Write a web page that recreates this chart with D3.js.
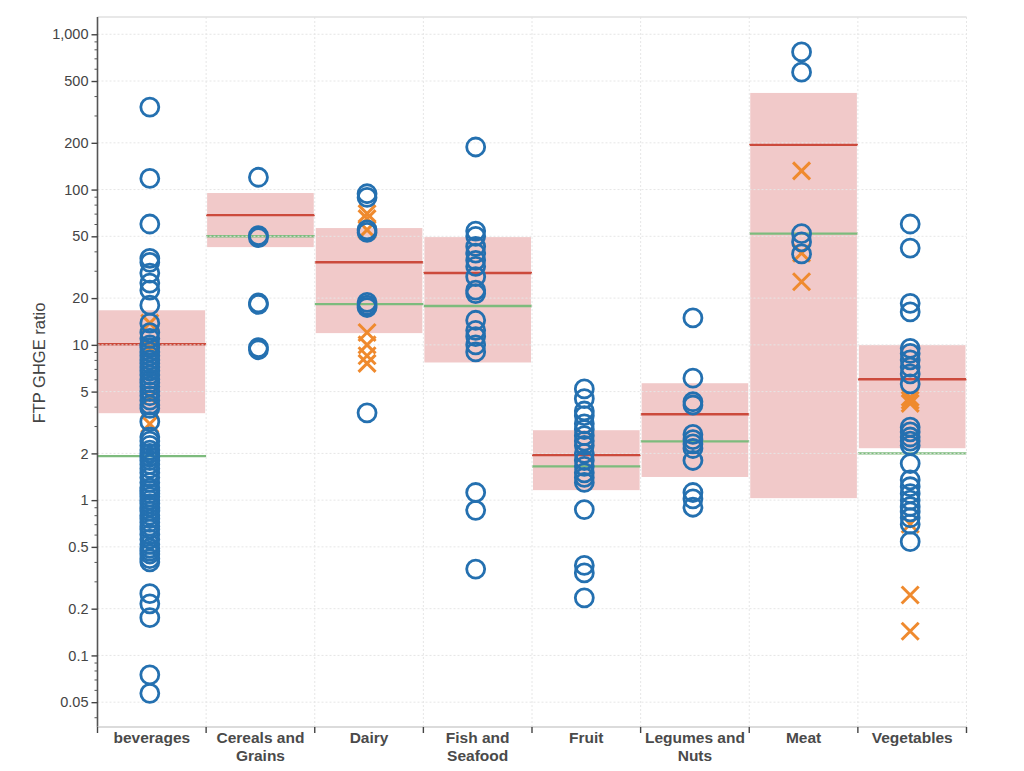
<!DOCTYPE html>
<html>
<head>
<meta charset="utf-8">
<script src="https://cdn.jsdelivr.net/npm/d3@7/dist/d3.min.js"></script>
<style>
  html, body { margin: 0; padding: 0; background: #fff; }
  svg { display: block; font-family: "Liberation Sans", Arial, sans-serif; }
</style>
</head>
<body>
<svg id="chart" width="1024" height="771"></svg>
<script>
// ---------------- DATA ----------------
const categories = ["beverages", "Cereals and Grains", "Dairy", "Fish and Seafood", "Fruit", "Legumes and Nuts", "Meat", "Vegetables"];
const categoryLabels = [["beverages"], ["Cereals and", "Grains"], ["Dairy"], ["Fish and", "Seafood"], ["Fruit"], ["Legumes and", "Nuts"], ["Meat"], ["Vegetables"]];

// shaded range (low / high), mean (red) and median (green) per category
const rangeLow  = [3.63, 42.6, 11.9, 7.7, 1.16, 1.41, 1.03, 2.16];
const rangeHigh = [16.7, 95, 56.5, 49.4, 2.82, 5.66, 419, 9.96];
const meanValues   = [10.1, 68.5, 34, 29, 1.95, 3.57, 194, 6.0];
const medianValues = [1.92, 50, 18.3, 17.8, 1.65, 2.39, 52, 2.0];

// circle markers per category
const circleValues = [
  [340, 118, 60, 36, 34, 29, 25, 22.5, 18, 13.8, 12, 11,
   10, 9.6, 9.0, 8.5, 8.0, 7.6, 7.2, 6.8, 6.4, 6.0, 5.7, 5.4, 5.0, 4.7, 4.4, 4.1, 3.9, 3.2,
   2.55, 2.4, 2.25, 2.1, 2.0, 1.9, 1.8, 1.7, 1.6, 1.5, 1.4, 1.3, 1.2, 1.15, 1.1, 1.05, 1.0,
   0.95, 0.9, 0.85, 0.8, 0.76, 0.72, 0.68, 0.65, 0.6, 0.56, 0.52, 0.49, 0.47, 0.45, 0.42, 0.40,
   0.25, 0.215, 0.175, 0.075, 0.057],
  [120, 50.5, 49, 18.6, 18.2, 9.6, 9.3],
  [94, 89, 55, 53, 18.8, 18, 17.4, 3.65],
  [188, 54, 50, 43, 39, 35, 32, 27.5, 22.5, 21.4, 14.4, 12.4, 11.3, 10, 9.0, 1.12, 0.86, 0.36],
  [5.2, 4.5, 3.75, 3.5, 3.1, 2.85, 2.6, 2.4, 2.25, 2.0, 1.8, 1.65, 1.5, 1.4, 1.3, 0.87, 0.38, 0.34, 0.235],
  [14.9, 6.1, 4.3, 4.1, 2.65, 2.45, 2.3, 2.15, 1.8, 1.12, 1.02, 0.9],
  [770, 570, 52, 46, 38.5],
  [60, 42, 18.5, 16.3, 9.5, 8.8, 8.0, 7.2, 6.5, 5.6, 2.95, 2.75, 2.55, 2.4, 2.25, 1.72,
   1.35, 1.22, 1.1, 1.0, 0.91, 0.84, 0.77, 0.7, 0.54]
];

// cross markers per category
const crossValues = [
  [13.8, 9.6, 4.6, 3.1],
  [],
  [70, 65, 55, 12, 10, 8.5, 7.6],
  [],
  [],
  [],
  [132, 39, 25.5],
  [4.6, 4.4, 4.2, 0.7, 0.245, 0.143]
];

const majorTicks = [1000, 500, 200, 100, 50, 20, 10, 5, 2, 1, 0.5, 0.2, 0.1, 0.05];
const minorTicks = [0.04, 0.06, 0.07, 0.08, 0.09, 0.3, 0.4, 0.6, 0.7, 0.8, 0.9, 3, 4, 6, 7, 8, 9, 30, 40, 60, 70, 80, 90, 300, 400, 600, 700, 800, 900];
const yTitle = "FTP GHGE ratio";

// ---------------- LAYOUT ----------------
const pLeft = 97.5, pRight = 966.5, pTop = 17, pBottom = 727;
const svg = d3.select("#chart");

const x = d3.scaleBand().domain(categories).range([pLeft, pRight]).padding(0);
const y = d3.scaleLog().domain([0.0346, 1292]).range([pBottom, pTop]);

const blue = "#2470b0";
const orange = "#ef8a2e";

// shaded ranges
svg.append("g").selectAll("rect").data(categories).join("rect")
  .attr("x", d => x(d) + 1)
  .attr("width", x.bandwidth() - 2)
  .attr("y", (d, i) => y(rangeHigh[i]))
  .attr("height", (d, i) => y(rangeLow[i]) - y(rangeHigh[i]))
  .attr("fill", "#f1c9c9");

// mean lines (red)
svg.append("g").selectAll("line").data(categories).join("line")
  .attr("x1", d => x(d)).attr("x2", d => x(d) + x.bandwidth())
  .attr("y1", (d, i) => y(meanValues[i])).attr("y2", (d, i) => y(meanValues[i]))
  .attr("stroke", "#cc4a3c").attr("stroke-width", 2.4);

// median lines (green)
svg.append("g").selectAll("line").data(categories).join("line")
  .attr("x1", d => x(d)).attr("x2", d => x(d) + x.bandwidth())
  .attr("y1", (d, i) => y(medianValues[i])).attr("y2", (d, i) => y(medianValues[i]))
  .attr("stroke", "#7dbb7d").attr("stroke-width", 2.4);

// grid
const grid = svg.append("g").attr("stroke", "#e6e6e6").attr("stroke-width", 1).attr("stroke-dasharray", "2,2");
grid.selectAll("line.h").data(majorTicks).join("line").attr("class", "h")
  .attr("x1", pLeft).attr("x2", pRight)
  .attr("y1", d => y(d)).attr("y2", d => y(d));
const boundaries = categories.map(c => x(c)).slice(1).concat([pRight]);
grid.selectAll("line.v").data(boundaries).join("line").attr("class", "v")
  .attr("x1", d => d).attr("x2", d => d)
  .attr("y1", pTop).attr("y2", pBottom);

// frame top
svg.append("line").attr("x1", pLeft).attr("x2", pRight).attr("y1", pTop).attr("y2", pTop)
  .attr("stroke", "#e0e0e0").attr("stroke-width", 1.5);

// crosses
const xs = 8.5;
const crossG = svg.append("g");
categories.forEach((c, i) => {
  const cx = x(c) + x.bandwidth() / 2 - 2;
  crossValues[i].forEach(v => {
    const cy = y(v);
    crossG.append("path")
      .attr("d", `M${cx - xs},${cy - xs}L${cx + xs},${cy + xs}M${cx - xs},${cy + xs}L${cx + xs},${cy - xs}`)
      .attr("stroke", orange).attr("stroke-width", 3).attr("fill", "none");
  });
});

// circles
const circG = svg.append("g");
categories.forEach((c, i) => {
  const cx = x(c) + x.bandwidth() / 2 - 2;
  circG.selectAll(null).data(circleValues[i]).join("circle")
    .attr("cx", cx).attr("cy", d => y(d)).attr("r", 9)
    .attr("fill", "none").attr("stroke", blue).attr("stroke-width", 2.8);
});

// y axis
const yAxis = svg.append("g").attr("transform", `translate(${pLeft},0)`)
  .call(d3.axisLeft(y).tickValues(majorTicks).tickFormat(d3.format(",")).tickSize(6).tickSizeOuter(0));
yAxis.select(".domain").attr("stroke", "#555").attr("stroke-width", 1.6).attr("d", `M0,${pTop}V${pBottom}`);
yAxis.selectAll(".tick line").attr("stroke", "#444").attr("stroke-width", 1.4);
yAxis.selectAll(".tick text").attr("fill", "#444").attr("font-size", 14.5).attr("x", -9);
const yMinor = svg.append("g").attr("transform", `translate(${pLeft},0)`)
  .call(d3.axisLeft(y).tickValues(minorTicks).tickFormat("").tickSize(3).tickSizeOuter(0));
yMinor.select(".domain").remove();
yMinor.selectAll(".tick line").attr("stroke", "#555");

// x axis
svg.append("line").attr("x1", pLeft).attr("x2", pRight).attr("y1", pBottom).attr("y2", pBottom)
  .attr("stroke", "#cfcfcf").attr("stroke-width", 1.5);
const tickXs = [pLeft].concat(boundaries);
svg.append("g").selectAll("line").data(tickXs).join("line")
  .attr("x1", d => d).attr("x2", d => d).attr("y1", pBottom).attr("y2", pBottom + 6)
  .attr("stroke", "#444").attr("stroke-width", 1.4);
const xl = svg.append("g");
categories.forEach((c, i) => {
  const t = xl.append("text")
    .attr("x", x(c) + x.bandwidth() / 2)
    .attr("y", 743)
    .attr("text-anchor", "middle")
    .attr("font-size", 15.5)
    .attr("font-weight", "bold")
    .attr("fill", "#4a4a4a");
  categoryLabels[i].forEach((ln, j) => {
    t.append("tspan").attr("x", x(c) + x.bandwidth() / 2).attr("dy", j === 0 ? 0 : 18).text(ln);
  });
});

// y title
svg.append("text")
  .attr("transform", `translate(45,363) rotate(-90)`)
  .attr("text-anchor", "middle")
  .attr("font-size", 16.5)
  .attr("fill", "#444")
  .text(yTitle);
</script>
</body>
</html>
